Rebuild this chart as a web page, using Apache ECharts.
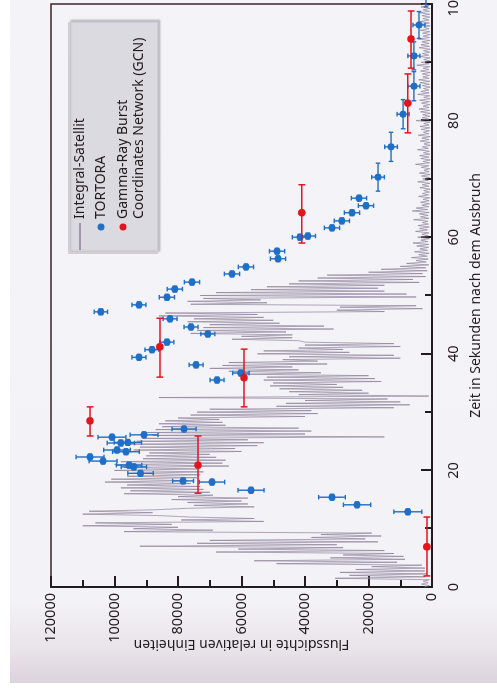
<!DOCTYPE html>
<html>
<head>
<meta charset="utf-8">
<script src="https://cdn.jsdelivr.net/npm/echarts/dist/echarts.min.js"></script>
<style>
  html, body { margin: 0; padding: 0; width: 497px; height: 698px; overflow: hidden; background: #ffffff; }
  #page {
    position: absolute; left: 10px; top: 0; width: 487px; height: 683px;
    background: linear-gradient(to bottom, #f4f4f8 0%, #f3f2f7 88%, #e9e3ea 95%, #dcd3dc 100%);
  }
  /* the chart is laid out landscape and turned a quarter turn counter-clockwise */
  #chart {
    position: absolute; left: 0; top: 0; width: 720px; height: 497px;
    transform-origin: 0 0; transform: translate(0, 698px) rotate(-90deg);
  }
</style>
</head>
<body>
<div id="page"></div>
<div id="chart"></div>
<script>
// Integral satellite light curve, one sample every 0.25 s from t = 0 s
const integralStep = 0.25;
const integralFlux = [
  2400, 900, 3300, 1200, 2800, 800, 30500, 2100, 26000, 1600, 29000, 2300, 24000, 2200, 19000, 3200,
  49000, 11000, 56000, 8500, 32000, 9000, 28000, 12000, 68000, 15000, 61000, 28000, 92000, 30000, 74000, 17000,
  70000, 21000, 38000, 16000, 35000, 19000, 97000, 69000, 94000, 80000, 110000, 82000, 106000, 53000, 79000, 56000,
  76000, 86000, 110000, 88000, 108000, 87000, 77000, 56000, 75000, 58000, 77000, 60000, 82000, 58000, 80000, 69000,
  97000, 70000, 95000, 72000, 98000, 73000, 96000, 76000, 103000, 77000, 101000, 74000, 96000, 73000, 94000, 72000,
  100000, 74000, 97000, 64000, 100000, 66000, 98000, 65000, 91000, 68000, 90000, 70000, 89000, 60000, 94000, 62000,
  92000, 55000, 96000, 53000, 93000, 58000, 91000, 15000, 88000, 40000, 90000, 38000, 87000, 42000, 85000, 65000,
  86000, 66000, 84000, 67000, 80000, 40000, 76000, 36000, 74000, 38000, 70000, 12000, 49000, 7000, 46000, 10000,
  40000, 14000, 86000, 1000, 42000, 20000, 45000, 22000, 48000, 28000, 51000, 30000, 50000, 16000, 53000, 18000,
  52000, 20000, 60000, 35000, 64000, 42000, 70000, 44000, 66000, 33000, 64000, 36000, 47000, 10000, 45000, 12000,
  55000, 26000, 53000, 28000, 42000, 10000, 40000, 12000, 40000, 42000, 63000, 44000, 60000, 44000, 76000, 46000,
  74000, 31000, 72000, 34000, 70000, 48000, 77000, 50000, 75000, 53000, 86000, 55000, 84000, 15000, 30000, 3000,
  29000, 5000, 76000, 52000, 77000, 54000, 72000, 5000, 73000, 8000, 68000, 15000, 57000, 17000, 52000, 15000,
  45000, 4000, 42000, 6000, 36000, 2000, 33000, 3000, 20000, 1500, 16000, 2000, 10000, 1000, 8000, 1800,
  5000, 1200, 6500, 1500, 4200, 900, 5500, 1400, 3800, 1100, 4800, 1000, 6000, 1300, 3500, 800,
  4500, 1200, 3200, 1000, 5200, 1400, 3900, 900, 4400, 1100, 3000, 1300, 5800, 1000, 3600, 1200,
  4000, 900, 6200, 1400, 5000, 1000, 3200, 800, 3600, 900, 2800, 700, 4200, 1100, 3000, 800,
  2600, 600, 3800, 1000, 3100, 700, 4500, 1200, 2900, 800, 3300, 600, 4000, 900, 2500, 700,
  3400, 1000, 5200, 800, 2800, 600, 3500, 900, 3900, 700, 2700, 800, 4600, 1100, 3000, 600,
  2500, 700, 3700, 900, 3200, 600, 4300, 1000, 2700, 800, 3400, 700, 3800, 900, 2600, 600,
  5000, 1000, 3100, 700, 2900, 600, 3600, 800, 4100, 900, 2800, 700, 3300, 800, 3900, 600,
  2600, 700, 4500, 900, 3500, 1000, 2700, 600, 3000, 800, 3800, 700, 4200, 900, 2900, 800,
  3100, 600, 3600, 1000, 2800, 700, 4800, 900, 3400, 800, 2600, 600, 3900, 1000, 3000, 700,
  2700, 600, 4100, 800, 3500, 900, 3200, 700, 4400, 800, 2800, 600, 3000, 700, 3700, 900,
  2600, 600, 3300, 800, 3800, 900, 2900, 700, 3200, 700, 4000, 800, 2800, 600, 3500, 900,
  3000
];

// TORTORA optical measurements: time (s), flux, half-widths of the error bars
const tortoraTime = [12.9, 14.1, 15.4, 16.6, 18.0, 18.2, 19.5, 20.6, 20.9, 21.6, 22.3, 23.2, 23.5, 24.7, 24.8,
  25.7, 26.1, 27.1, 35.5, 36.7, 38.1, 39.4, 40.7, 42.0, 43.4, 44.6, 46.0, 47.2, 48.4, 49.7, 51.1, 52.3, 53.7,
  54.9, 56.3, 57.6, 60.0, 60.2, 61.6, 62.8, 64.2, 65.4, 66.7, 70.3, 75.5, 81.1, 85.9, 91.1, 96.4, 102.0];
const tortoraFlux = [7600, 23600, 31500, 57000, 69300, 78400, 91800, 93900, 95400, 103600, 107700, 96400, 99200, 98000, 95800,
  100800, 90700, 78100, 67700, 60200, 74300, 92300, 88200, 83500, 70600, 75900, 82500, 104300, 92300, 83500, 81000, 75600, 63000,
  58600, 48500, 48800, 41600, 39100, 31500, 28400, 25200, 20800, 23000, 17000, 12900, 9100, 5700, 5700, 4100, 1900];
const tortoraTimeErr = [0.5, 0.5, 0.5, 0.5, 0.5, 0.5, 0.5, 0.5, 0.5, 0.5, 0.5, 0.5, 0.5, 0.5, 0.5,
  0.5, 0.5, 0.5, 0.5, 0.5, 0.5, 0.5, 0.5, 0.5, 0.5, 0.5, 0.5, 0.5, 0.5, 0.5, 0.5, 0.5, 0.5,
  0.5, 0.5, 0.5, 0.5, 0.5, 0.5, 0.5, 0.5, 0.5, 0.5, 2.4, 2.5, 2.5, 2.5, 2.4, 2.3, 2.5];
const tortoraFluxErr = [4400, 4300, 4200, 4100, 4000, 3300, 4000, 4000, 4000, 4400, 4400, 4200, 4200, 4300, 4300,
  4400, 4400, 3800, 2200, 2600, 2200, 2200, 2200, 2200, 2200, 2200, 2200, 2100, 2200, 2400, 2400, 2400, 2400,
  2400, 2400, 2400, 2400, 2400, 2400, 2400, 2400, 2400, 2400, 2000, 2000, 1900, 1900, 1900, 1900, 1600];

// GCN measurements: mean time, flux and the start/end of each time bin
const gcnTime = [6.9, 20.9, 28.5, 35.9, 41.2, 64.2, 83.0, 94.0];
const gcnFlux = [1600, 73700, 107700, 59200, 85700, 41000, 7600, 6600];
const gcnTimeStart = [1.9, 16.1, 25.9, 30.9, 36.0, 59.0, 77.9, 89.0];
const gcnTimeEnd = [12.0, 25.9, 30.9, 40.8, 46.1, 69.0, 88.0, 98.8];

const timeTicks = [0, 20, 40, 60, 80, 100];
const fluxTicks = [0, 20000, 40000, 60000, 80000, 100000, 120000];

const BLUE = '#1f6fc6';
const RED = '#e2141c';
const GREY = '#8b7f98';
const INK = '#231c1e';
const FONT = 'Noto Sans';

const integralData = integralFlux.map((f, i) => [i * integralStep, f]);
const tortoraData = tortoraTime.map((t, i) => [t, tortoraFlux[i], tortoraTimeErr[i], tortoraFluxErr[i]]);
const gcnData = gcnTime.map((t, i) => [t, gcnFlux[i], gcnTimeStart[i], gcnTimeEnd[i]]);

function seg(x1, y1, x2, y2, color, w) {
  return { type: 'line', shape: { x1, y1, x2, y2 }, style: { stroke: color, lineWidth: w } };
}

function renderTortora(params, api) {
  const t = api.value(0), f = api.value(1), dt = api.value(2), df = api.value(3);
  const c = api.coord([t, f]);
  const a = api.coord([t - dt, f]), b = api.coord([t + dt, f]);
  const lo = api.coord([t, f - df]), hi = api.coord([t, f + df]);
  const cap = 2.3, w = 1.4;
  return {
    type: 'group',
    children: [
      seg(a[0], a[1], b[0], b[1], BLUE, w),
      seg(a[0], a[1] - cap, a[0], a[1] + cap, BLUE, w),
      seg(b[0], b[1] - cap, b[0], b[1] + cap, BLUE, w),
      seg(lo[0], lo[1], hi[0], hi[1], BLUE, w),
      seg(lo[0] - cap, lo[1], lo[0] + cap, lo[1], BLUE, w),
      seg(hi[0] - cap, hi[1], hi[0] + cap, hi[1], BLUE, w),
      { type: 'circle', shape: { cx: c[0], cy: c[1], r: 3.5 }, style: { fill: BLUE } }
    ]
  };
}

function renderGcn(params, api) {
  const t = api.value(0), f = api.value(1), t0 = api.value(2), t1 = api.value(3);
  const c = api.coord([t, f]);
  const a = api.coord([t0, f]), b = api.coord([t1, f]);
  const cap = 3.4, w = 1.5;
  return {
    type: 'group',
    children: [
      seg(a[0], a[1], b[0], b[1], RED, w),
      seg(a[0], a[1] - cap, a[0], a[1] + cap, RED, w),
      seg(b[0], b[1] - cap, b[0], b[1] + cap, RED, w),
      { type: 'circle', shape: { cx: c[0], cy: c[1], r: 3.8 }, style: { fill: RED } }
    ]
  };
}

const chart = echarts.init(document.getElementById('chart'), null, { renderer: 'canvas' });

const legendText = { fill: INK, font: '14px "' + FONT + '"' };

chart.setOption({
  animation: false,
  backgroundColor: 'transparent',
  textStyle: { fontFamily: FONT },
  grid: {
    show: true, left: 111, right: 26, top: 51, bottom: 65,
    borderColor: '#3a2528', borderWidth: 1.5, backgroundColor: 'transparent'
  },
  xAxis: {
    type: 'value', min: timeTicks[0], max: timeTicks[timeTicks.length - 1], interval: timeTicks[1] - timeTicks[0],
    axisLine: { show: true, lineStyle: { color: INK, width: 2 } },
    axisTick: { show: true, inside: true, length: 11, lineStyle: { color: INK, width: 2 } },
    minorTick: { show: true, splitNumber: 2, length: 7, lineStyle: { color: INK, width: 2 } },
    splitLine: { show: false },
    axisLabel: { color: INK, fontSize: 14.5, fontFamily: FONT, margin: 14 },
    name: 'Zeit in Sekunden nach dem Ausbruch', nameLocation: 'middle', nameGap: 37,
    nameTextStyle: { color: INK, fontSize: 14, fontFamily: FONT }
  },
  yAxis: {
    type: 'value', min: fluxTicks[0], max: fluxTicks[fluxTicks.length - 1], interval: fluxTicks[1] - fluxTicks[0],
    axisLine: { show: true, lineStyle: { color: INK, width: 2 } },
    axisTick: { show: true, inside: true, length: 11, lineStyle: { color: INK, width: 2 } },
    minorTick: { show: true, splitNumber: 2, length: 7, lineStyle: { color: INK, width: 2 } },
    splitLine: { show: false },
    axisLabel: { color: INK, fontSize: 14.5, fontFamily: FONT, margin: 6, formatter: v => String(v) },
    name: 'Flussdichte in relativen Einheiten', nameLocation: 'middle', nameGap: 50, nameRotate: 90,
    nameMoveOverlap: false,
    nameTextStyle: { color: INK, fontSize: 14, fontFamily: FONT }
  },
  graphic: [
    {
      type: 'rect', left: 444, top: 68, z: 50,
      shape: { width: 231, height: 89 },
      style: { fill: '#dcdae1', stroke: '#cfccd3', lineWidth: 1, shadowColor: 'rgba(60,50,70,0.25)', shadowBlur: 2, shadowOffsetX: 2, shadowOffsetY: 2 }
    },
    { type: 'line', z: 51, shape: { x1: 448, y1: 80, x2: 475, y2: 80 }, style: { stroke: GREY, lineWidth: 1.5 } },
    { type: 'text', z: 51, x: 479, y: 80, style: Object.assign({ text: 'Integral-Satellit', verticalAlign: 'middle' }, legendText) },
    { type: 'circle', z: 51, shape: { cx: 471, cy: 101, r: 3.5 }, style: { fill: BLUE } },
    { type: 'text', z: 51, x: 479, y: 101, style: Object.assign({ text: 'TORTORA', verticalAlign: 'middle' }, legendText) },
    { type: 'circle', z: 51, shape: { cx: 471, cy: 123, r: 3.5 }, style: { fill: RED } },
    { type: 'text', z: 51, x: 479, y: 115, style: Object.assign({ text: 'Gamma-Ray Burst\nCoordinates Network (GCN)', verticalAlign: 'top', lineHeight: 16 }, legendText) }
  ],
  series: [
    {
      name: 'Integral-Satellit', type: 'line', data: integralData, showSymbol: false, symbol: 'none',
      lineStyle: { color: GREY, width: 0.8, opacity: 0.85 }, z: 2, silent: true
    },
    {
      name: 'TORTORA', type: 'custom', data: tortoraData, renderItem: renderTortora,
      encode: { x: 0, y: 1 }, clip: false, z: 4
    },
    {
      name: 'Gamma-Ray Burst Coordinates Network (GCN)', type: 'custom', data: gcnData, renderItem: renderGcn,
      encode: { x: 0, y: 1 }, clip: false, z: 5
    }
  ]
});
</script>
</body>
</html>
